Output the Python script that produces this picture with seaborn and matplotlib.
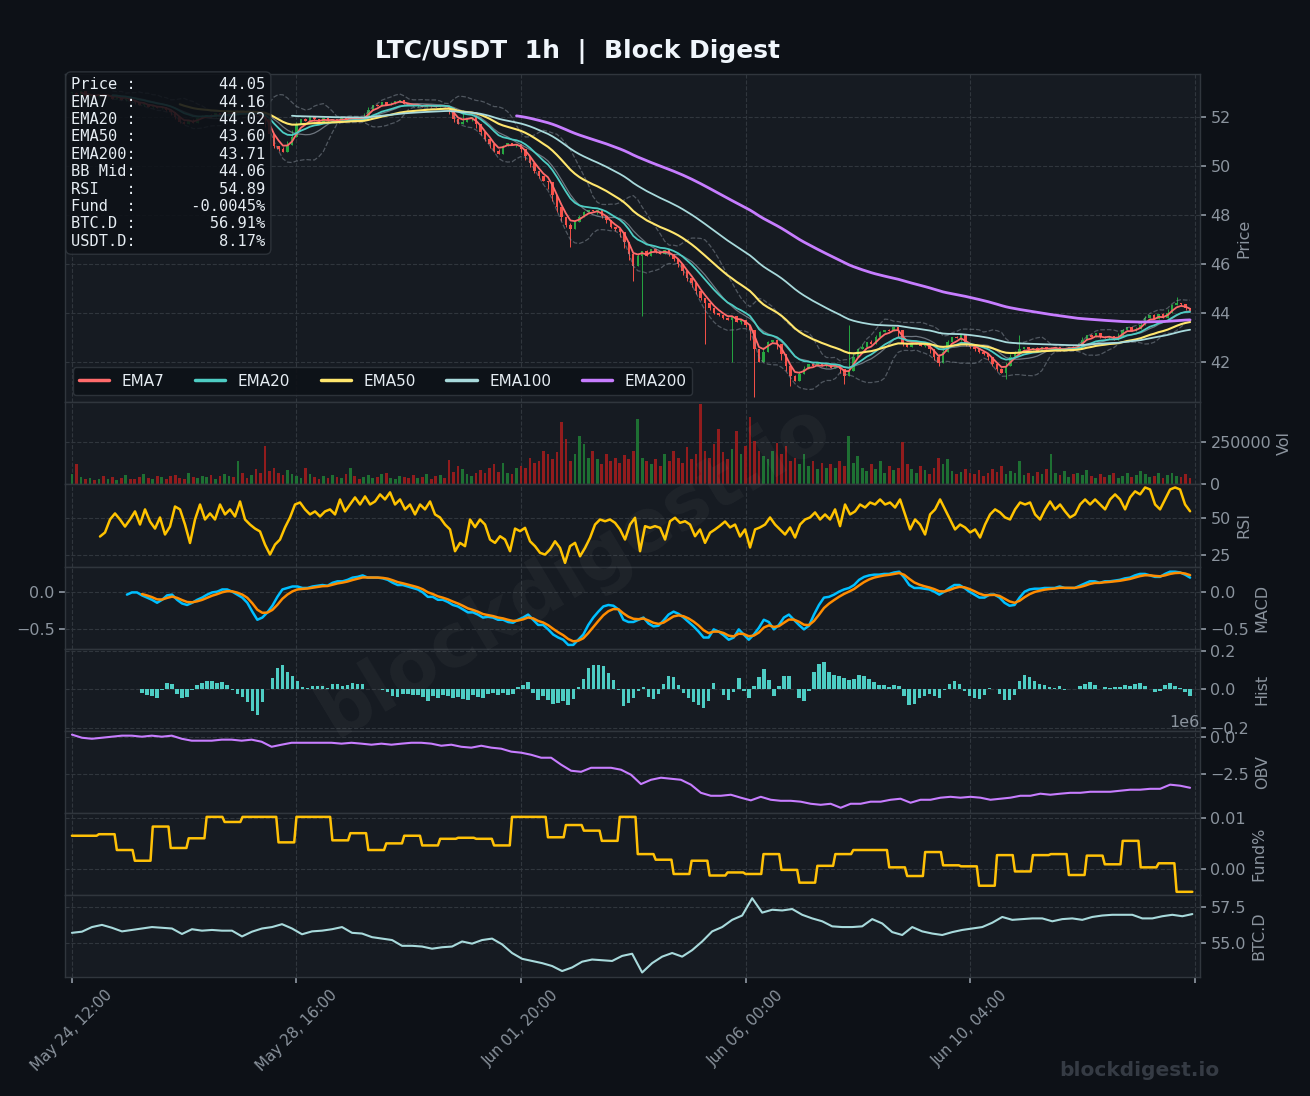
import numpy as np
import pandas as pd
import matplotlib
matplotlib.use('Agg')
import matplotlib.pyplot as plt
import seaborn as sns

close = [
    53.0, 52.9, 53.05, 52.85, 52.9,
    52.8, 52.95, 52.85, 52.9, 52.75, 52.85, 52.7, 52.8,
    52.65, 52.6,
    52.5, 52.55, 52.4, 52.45, 52.35, 52.4, 52.3, 52.2,
    52.0, 51.8, 51.7, 51.85, 51.75, 51.95,
    52.05, 52.1, 52.0, 52.15, 52.05, 52.1, 52.2, 52.1, 52.25,
    52.2, 52.15, 52.25, 52.1, 52.05, 51.9,
    51.3, 50.8, 50.7, 50.55, 50.85, 51.2,
    51.7, 51.9, 51.85, 52.0, 51.9, 51.8, 51.95, 51.85, 51.9, 51.8, 51.95, 51.9, 52.0,
    51.95, 51.85, 52.0, 52.3, 52.5, 52.45, 52.6, 52.5, 52.55, 52.65,
    52.7, 52.55, 52.5, 52.45, 52.5, 52.4, 52.5, 52.45, 52.4, 52.5, 52.45, 52.35,
    51.9, 51.7, 51.8, 51.95, 52.0,
    51.7, 51.4, 51.1, 50.9, 50.6, 50.5,
    50.8, 50.95, 50.85, 50.9, 50.7,
    50.4, 50.1, 49.8, 49.6, 49.4, 49.35,
    48.8, 48.3, 47.9, 47.6, 47.4,
    47.7, 47.9, 48.1, 48.2, 48.15, 48.2,
    47.95, 47.8, 47.5, 47.4, 47.3,
    46.9, 46.4, 45.9, 46.3,
    46.5, 46.3, 46.6, 46.5, 46.4, 46.55, 46.4, 46.2,
    46.0, 45.7, 45.4, 45.2, 44.9,
    44.6, 44.4, 44.2, 44.0, 43.9, 43.8,
    43.7, 43.85, 43.6, 43.7, 43.5, 43.3,
    42.5, 42.0, 42.4,
    42.8, 42.9, 42.7, 42.3,
    41.8, 41.4, 41.2,
    41.5, 41.7, 41.9, 41.8, 41.95,
    41.8, 41.9, 41.75, 41.85, 41.7,
    41.4, 41.6,
    42.2, 42.5, 42.6, 42.8, 42.7,
    43.0, 43.2, 43.3, 43.25, 43.4, 43.3,
    42.7, 42.6,
    42.75, 42.8, 42.65, 42.7, 42.5,
    42.2, 41.95,
    42.4, 42.8, 43.0, 42.95, 43.1,
    42.7, 42.6, 42.5, 42.4, 42.3, 42.2,
    41.9, 41.7, 41.55, 41.8,
    42.2, 42.4, 42.5,
    42.6, 42.5, 42.55, 42.45, 42.6, 42.5, 42.55, 42.6, 42.45, 42.5, 42.6, 42.55, 42.65,
    42.9, 43.1, 43.0, 43.15, 43.0,
    42.95, 43.05, 42.9, 43.0,
    43.3, 43.4, 43.25, 43.35, 43.5,
    43.8, 43.9, 43.75, 43.95, 43.8, 44.0,
    44.3, 44.4, 44.35, 44.2, 44.05,
]

# volume per 2h sample, thousands
volume_k = [
    60, 120, 45, 30, 40, 25, 35, 50, 30, 45, 28, 40, 55, 35, 30, 45, 60, 38, 30, 50,
    42, 35, 48, 55, 40, 30, 65, 45, 38, 50,
    42, 55, 35, 48, 60, 50, 45, 140, 70, 38, 55, 90, 65, 226, 80, 100, 70, 55, 85, 60,
    50, 40, 95, 60, 45, 35, 50, 40, 55, 45, 38, 60, 100, 48, 35, 42, 55, 38, 45, 60,
    70, 40, 35, 50, 45, 38, 55, 40, 42, 60, 35, 48, 55, 40, 143,
    75, 110, 90, 60, 50, 70, 85, 65, 95, 120, 75, 130, 70, 60, 95,
    110, 95, 160, 130, 140, 200, 180, 150, 190, 369, 270, 140, 180, 290, 240, 160, 200, 150, 120, 180,
    140, 160, 130, 175, 150, 200, 387, 160, 140, 120,
    150, 110, 180, 140, 200, 160, 130, 220, 150, 180, 476, 200, 160, 240, 330, 190, 150, 210, 320, 180,
    230, 400, 260, 200, 170,
    150, 200, 245, 180, 230, 140, 160, 120, 180, 110, 140, 90, 130, 100, 120, 95, 140, 110, 290, 130,
    170, 100, 80, 120, 90, 140, 70, 110, 85, 100, 250, 120, 90, 70, 110, 85, 60, 95, 160, 120,
    150, 80, 60, 75, 90,
    70, 60, 85, 50, 65, 90, 75, 110, 60, 80, 70, 140, 55, 65, 50, 75, 60, 90, 180, 70,
    55, 80, 45, 60, 70, 55, 85, 50, 40, 60, 45, 55, 70, 40, 50, 65, 45, 55, 80, 60,
    45, 50, 65, 40, 55, 70, 50, 45, 60, 40,
]

# long wicks (sample index, extreme price)
low_spike_idx = [111, 125, 127, 141, 147, 152, 160, 172, 193, 208]
low_spike_px = [46.7, 45.3, 43.85, 42.7, 42.0, 40.55, 41.0, 41.1, 41.8, 41.3]
high_spike_idx = [87, 173, 211, 246]
high_spike_px = [52.3, 43.5, 43.1, 44.65]

rsi = [
    37.5, 40.3, 49.3, 53.5, 49.3, 44.4, 49.3, 54.9, 45.8, 56.3,
    47.9, 43.0, 50.7, 38.9, 44.4, 58.3, 56.3, 45.8, 33.0, 49.3,
    59.7, 49.3, 53.5, 49.3, 59.7, 52.8, 56.3, 51.4, 61.8, 49.3,
    45.8, 43.0, 41.0, 31.9, 25.0, 31.9, 35.4, 43.8, 50.7, 59.7,
    61.1, 56.3, 52.8, 54.9, 51.4, 54.9, 56.3, 52.8, 63.2, 54.9,
    59.7, 64.6, 59.7, 65.3, 59.7, 61.8, 66.7, 63.2, 68.1, 59.7,
    63.2, 56.3, 59.7, 52.8, 59.7, 56.3, 61.8, 52.8, 50.7, 45.8,
    42.4, 27.3, 33.1, 30.8, 49.3, 44.0, 49.3, 45.8, 35.4, 33.1,
    37.7, 35.4, 27.3, 43.0, 41.2, 43.5, 34.2, 30.8, 26.2, 25.0,
    28.5, 34.2, 29.6, 19.2, 30.8, 33.1, 23.8, 29.6, 36.6, 45.8,
    49.3, 48.1, 49.3, 47.0, 42.4, 35.4, 45.8, 50.5, 27.3, 44.7,
    43.5, 44.7, 43.5, 35.4, 48.1, 50.5, 47.0, 48.1, 45.8, 37.7,
    42.4, 33.1, 40.1, 42.4, 45.0, 47.9, 43.8, 45.8, 37.5, 42.4,
    29.9, 42.4, 43.8, 45.8, 50.7, 45.8, 42.4, 38.9, 43.8, 36.8,
    45.8, 49.3, 50.7, 54.2, 49.3, 52.8, 49.3, 56.3, 44.7, 59.7,
    52.8, 54.9, 59.7, 57.6, 61.1, 59.7, 63.2, 59.7, 61.1, 57.6,
    63.2, 52.8, 42.4, 49.3, 45.8, 38.9, 52.8, 56.3, 63.2, 56.3,
    49.3, 42.4, 45.8, 43.8, 40.3, 42.4, 36.8, 45.8, 52.8, 56.3,
    54.2, 50.7, 49.3, 56.3, 61.1, 59.7, 61.1, 52.8, 49.3, 56.3,
    61.8, 56.3, 59.7, 54.9, 50.7, 52.8, 59.7, 63.2, 59.7, 63.2,
    59.7, 56.3, 63.2, 66.7, 63.2, 56.3, 64.6, 68.8, 66.7, 71.5,
    70.1, 59.7, 56.3, 63.2, 70.1, 71.5, 70.1, 59.7, 55.0,
]

macd = [
    -0.04, -0.01, -0.01, -0.05, -0.08, -0.11, -0.15, -0.11, -0.05, -0.04,
    -0.11, -0.16, -0.18, -0.15, -0.11, -0.08, -0.04, -0.01, 0.0, 0.03,
    0.03, 0.0, -0.04, -0.08, -0.15, -0.27, -0.38, -0.35, -0.28, -0.19,
    -0.07, 0.03, 0.05, 0.07, 0.07, 0.05, 0.05, 0.07, 0.08, 0.09,
    0.08, 0.12, 0.14, 0.14, 0.16, 0.19, 0.2, 0.22, 0.19, 0.19,
    0.19, 0.18, 0.16, 0.12, 0.09, 0.09, 0.07, 0.05, 0.03, -0.01,
    -0.07, -0.07, -0.11, -0.11, -0.14, -0.18, -0.2, -0.24, -0.28, -0.28,
    -0.31, -0.35, -0.34, -0.35, -0.38, -0.38, -0.41, -0.42, -0.38, -0.35,
    -0.31, -0.38, -0.45, -0.45, -0.51, -0.58, -0.62, -0.65, -0.72, -0.72,
    -0.65, -0.58, -0.45, -0.35, -0.27, -0.2, -0.18, -0.19, -0.24, -0.38,
    -0.41, -0.41, -0.38, -0.35, -0.43, -0.47, -0.46, -0.39, -0.31, -0.27,
    -0.3, -0.35, -0.41, -0.47, -0.54, -0.62, -0.62, -0.51, -0.54, -0.59,
    -0.65, -0.62, -0.51, -0.58, -0.65, -0.58, -0.49, -0.38, -0.41, -0.51,
    -0.45, -0.35, -0.31, -0.38, -0.45, -0.51, -0.46, -0.31, -0.18, -0.08,
    -0.07, -0.04, 0.0, 0.03, 0.05, 0.09, 0.16, 0.2, 0.22, 0.23,
    0.23, 0.24, 0.24, 0.26, 0.27, 0.19, 0.09, 0.05, 0.05, 0.04,
    0.03, 0.0, -0.04, 0.0, 0.05, 0.09, 0.09, 0.05, 0.0, -0.04,
    -0.08, -0.08, -0.04, -0.04, -0.08, -0.15, -0.19, -0.18, -0.08, 0.0,
    0.03, 0.04, 0.04, 0.05, 0.05, 0.05, 0.07, 0.05, 0.05, 0.05,
    0.08, 0.11, 0.14, 0.14, 0.12, 0.14, 0.14, 0.15, 0.16, 0.18,
    0.19, 0.22, 0.24, 0.24, 0.22, 0.2, 0.2, 0.24, 0.27, 0.27,
    0.26, 0.23, 0.19,
]

obv_m = [
    0.14, -0.07, -0.14, -0.07, 0.0, 0.07, 0.07, 0.0, 0.07, 0.0,
    0.07, -0.14, -0.27, -0.27, -0.27, -0.2, -0.2, -0.27, -0.2, -0.34,
    -0.68, -0.54, -0.41, -0.41, -0.41, -0.41, -0.41, -0.47, -0.41, -0.47,
    -0.54, -0.47, -0.54, -0.47, -0.41, -0.41, -0.47, -0.61, -0.54, -0.68,
    -0.74, -0.61, -0.74, -0.81, -1.01, -1.08, -1.22, -1.42, -1.42, -1.89,
    -2.3, -2.37, -2.1, -2.1, -2.1, -2.23, -2.57, -3.2, -2.91, -2.77,
    -2.84, -2.91, -3.24, -3.79, -3.99, -3.99, -3.92, -4.12, -4.3, -4.06,
    -4.26, -4.33, -4.33, -4.39, -4.53, -4.6, -4.53, -4.8, -4.53, -4.53,
    -4.39, -4.39, -4.26, -4.19, -4.46, -4.26, -4.26, -4.12, -4.06, -4.12,
    -4.06, -4.12, -4.26, -4.19, -4.12, -3.99, -3.99, -3.85, -3.92, -3.85,
    -3.79, -3.79, -3.72, -3.72, -3.72, -3.65, -3.58, -3.58, -3.52, -3.52,
    -3.24, -3.31, -3.45,
]

# funding rate (%), first window 12h then every 8h
funding = [
    0.0065, 0.0068, 0.0037, 0.0016, 0.0083, 0.0041, 0.006, 0.0102, 0.0092, 0.0102,
    0.0102, 0.0052, 0.0102, 0.0102, 0.0056, 0.007, 0.0037, 0.005, 0.0065, 0.0046,
    0.0059, 0.0061, 0.0059, 0.0046, 0.0102, 0.0102, 0.0062, 0.0086, 0.0075, 0.0055,
    0.0102, 0.0029, 0.0018, -0.001, 0.0016, -0.0013, -0.0007, -0.001, 0.0029, -0.0002,
    -0.0027, 0.0006, 0.0029, 0.0037, 0.0037, 0.0003, -0.0014, 0.0033, 0.0007, 0.0005,
    -0.0033, 0.0027, -0.0005, 0.0027, 0.0029, -0.0012, 0.0026, 0.0009, 0.0055, 0.0003,
    0.0011, -0.0045,
]

btc_d = [
    55.7, 55.78, 56.1, 56.25, 56.05, 55.8, 55.9, 56.0, 56.1, 56.05,
    56.0, 55.62, 55.95, 55.85, 55.9, 55.85, 55.85, 55.45, 55.78, 56.0,
    56.1, 56.3, 56.0, 55.6, 55.8, 55.85, 55.95, 56.1, 55.7, 55.65,
    55.4, 55.3, 55.2, 54.8, 54.8, 54.75, 54.6, 54.7, 54.75, 55.1,
    54.95, 55.2, 55.3, 54.9, 54.3, 53.9, 53.75, 53.6, 53.4, 53.05,
    53.3, 53.7, 53.85, 53.8, 53.75, 54.1, 54.25, 52.95, 53.6, 54.05,
    54.3, 54.05, 54.5, 55.1, 55.8, 56.1, 56.6, 56.9, 58.1, 57.1,
    57.3, 57.25, 57.35, 56.95, 56.7, 56.5, 56.15, 56.1, 56.1, 56.15,
    56.65, 56.35, 55.75, 55.55, 56.1, 55.8, 55.65, 55.55, 55.75, 55.9,
    56.0, 56.1, 56.4, 56.8, 56.6, 56.65, 56.7, 56.7, 56.5, 56.65,
    56.7, 56.6, 56.8, 56.9, 56.95, 56.95, 56.95, 56.7, 56.7, 56.85,
    56.95, 56.85, 57.0,
]

tick_labels = ['May 24, 12:00', 'May 28, 16:00', 'Jun 01, 20:00',
               'Jun 06, 00:00', 'Jun 10, 04:00', '']
info_labels = ['Price', 'EMA7', 'EMA20', 'EMA50', 'EMA200', 'BB Mid',
               'RSI', 'Fund', 'BTC.D', 'USDT.D']
info_values = ['44.05', '44.16', '44.02', '43.60', '43.71', '44.06',
               '54.89', '-0.0045%', '56.91%', '8.17%']

BG = '#0d1117'
PANEL = '#161b22'
GRID = '#30363d'
TXT = '#8b949e'

sns.set_theme(style='dark', rc={
    'figure.facecolor': BG, 'axes.facecolor': PANEL, 'axes.edgecolor': GRID,
    'grid.color': GRID, 'text.color': TXT, 'axes.labelcolor': TXT,
    'xtick.color': TXT, 'ytick.color': TXT, 'patch.force_edgecolor': False,
})
plt.rcParams['font.family'] = ['DejaVu Sans']

step = 2  # hours per price sample
c = pd.Series(close, dtype=float)
o = c.shift(1).fillna(c.iloc[0])
t = np.arange(len(c)) * step
body_top = np.maximum(o, c)
body_bot = np.minimum(o, c)
hi = np.maximum(body_top, (body_top + c.rolling(3, center=True, min_periods=1).max()) / 2).values.copy()
lo = np.minimum(body_bot, (body_bot + c.rolling(3, center=True, min_periods=1).min()) / 2).values.copy()
for i, p in zip(low_spike_idx, low_spike_px):
    lo[i] = min(lo[i], p)
for i, p in zip(high_spike_idx, high_spike_px):
    hi[i] = max(hi[i], p)
up = (c >= o).values
candle_col = np.where(up, '#26a641', '#f85149')


def ema(span_h):
    a = 1 - (1 - 2 / (span_h + 1)) ** step
    return c.ewm(alpha=a, adjust=False, min_periods=max(1, span_h // step)).mean()


bb_n = 20 // step
bb_mid = c.rolling(bb_n).mean()
bb_sd = c.rolling(bb_n).std(ddof=0)

fig = plt.figure(figsize=(13.1, 10.96), dpi=100)
gs = fig.add_gridspec(8, 1, height_ratios=[4, 1, 1, 1, 1, 1, 1, 1], hspace=0,
                      left=0.0496, right=0.916, top=0.9325, bottom=0.1086)
ax0 = fig.add_subplot(gs[0])
axes = [ax0] + [fig.add_subplot(gs[i], sharex=ax0) for i in range(1, 8)]
axp, axv, axr, axm, axh, axo, axf, axb = axes

# price panel
axp.vlines(t, lo, hi, colors=candle_col, lw=0.7, zorder=2)
axp.bar(t, np.maximum(body_top - body_bot, 0.03), bottom=body_bot, width=1.1,
        color=candle_col, edgecolor='none', linewidth=0, zorder=2)
for band in (bb_mid + 2 * bb_sd, bb_mid - 2 * bb_sd):
    sns.lineplot(x=t, y=band.values, ax=axp, color=TXT, lw=0.9, ls='--', alpha=0.5, zorder=3)
sns.lineplot(x=t, y=bb_mid.values, ax=axp, color=TXT, lw=0.9, alpha=0.75, zorder=3)
ema_specs = [(7, '#ff6b6b', 1.3), (20, '#4ecdc4', 1.3), (50, '#ffe66d', 1.5),
             (100, '#a8dadc', 1.3), (200, '#c77dff', 2.0)]
handles = []
for span, col, lw in ema_specs:
    sns.lineplot(x=t, y=ema(span).values, ax=axp, color=col, lw=lw, zorder=4)
    handles.append(plt.Line2D([], [], color=col, lw=2.5, label=f'EMA{span}'))
axp.legend(handles=handles, loc='lower left', ncol=5, fontsize=11, facecolor=BG,
           edgecolor=GRID, labelcolor='#e6edf3', framealpha=0.9)
axp.set_ylim(40.33, 53.76)
axp.set_yticks([42, 44, 46, 48, 50, 52])
axp.set_ylabel('Price')

info = '\n'.join(f'{lab:<6}:{val:>14}' for lab, val in zip(info_labels, info_values))
axp.text(0.0055, 0.99, info, transform=axp.transAxes, va='top', ha='left',
         family='DejaVu Sans Mono', fontsize=11.1, color='#e6edf3', linespacing=1.2,
         zorder=10, bbox=dict(boxstyle='round,pad=0.35', fc=BG, ec=GRID, alpha=0.88))

# volume
vol = np.array(volume_k) * 1000
axv.bar(t, vol, width=1.2, color=np.where(up, '#1f7a35', '#a11d1d'),
        edgecolor='none', linewidth=0, alpha=0.9)
axv.set_ylim(0, 488000)
axv.set_yticks([0, 250000])
axv.set_ylabel('Vol')

# RSI
rx = np.linspace(12.5, 498, len(rsi))
sns.lineplot(x=rx, y=rsi, ax=axr, color='#ffc300', lw=1.8)
axr.set_ylim(16.7, 73.6)
axr.set_yticks([25, 50])
axr.set_ylabel('RSI')

# MACD
mx = np.linspace(24.5, 498, len(macd))
dt = mx[1] - mx[0]
m = pd.Series(macd)
sig = m.ewm(alpha=1 - (1 - 2 / 10) ** dt, adjust=False, min_periods=4).mean()
sns.lineplot(x=mx, y=m.values, ax=axm, color='#00bfff', lw=1.8)
sns.lineplot(x=mx, y=sig.values, ax=axm, color='#ff8c00', lw=1.8)
axm.set_ylim(-0.77, 0.34)
axm.set_yticks([-0.5, 0.0])
axm.set_ylabel('MACD')

# histogram
hist = (m - sig).values
axh.bar(mx, np.nan_to_num(hist), width=dt * 0.7, color='#4ecdc4',
        edgecolor='none', linewidth=0)
axh.set_ylim(-0.215, 0.21)
axh.set_yticks([-0.2, 0.0, 0.2])
axh.set_ylabel('Hist')

# OBV
ox = np.linspace(0, 498, len(obv_m))
sns.lineplot(x=ox, y=np.array(obv_m) * 1e6, ax=axo, color='#c77dff', lw=1.5)
axo.set_ylim(-5.14e6, 0.405e6)
axo.set_yticks([-2.5e6, 0.0])
axo.set_ylabel('OBV')
axo.yaxis.get_offset_text().set_color(TXT)
axo.yaxis.get_offset_text().set_fontsize(11.5)

# funding, expanded to hourly steps
seg_len = [12] + [8] * (len(funding) - 1)
fund_h = np.repeat(funding, seg_len)
sns.lineplot(x=np.arange(len(fund_h)), y=fund_h, ax=axf, color='#ffc107', lw=1.8)
axf.set_ylim(-0.0051, 0.011)
axf.set_yticks([0.0, 0.01])
axf.set_yticklabels(['0.00', '0.01'])
axf.set_ylabel('Fund%')

# BTC dominance
bx = np.linspace(0, 499, len(btc_d))
sns.lineplot(x=bx, y=btc_d, ax=axb, color='#a8dadc', lw=1.5)
axb.set_ylim(52.64, 58.33)
axb.set_yticks([55.0, 57.5])
axb.set_ylabel('BTC.D')

for ax in axes:
    ax.set_facecolor(PANEL)
    ax.grid(True, ls='--', lw=0.8, color=GRID, alpha=1.0)
    ax.yaxis.tick_right()
    ax.yaxis.set_label_position('right')
    ax.yaxis.label.set_size(11.5)
    ax.tick_params(axis='y', right=True, left=False, labelright=True, labelleft=False,
                   labelsize=11.5, colors=TXT, length=4)
    ax.tick_params(axis='x', bottom=True, length=4, colors=TXT)
    for sp in ax.spines.values():
        sp.set_color(GRID)
        sp.set_linewidth(1.0)
    if ax is not axb:
        ax.tick_params(axis='x', labelbottom=False)
axm.tick_params(axis='y', left=True, labelleft=True)

axb.set_xlim(-3.1, 502.4)
axb.set_xticks(np.arange(0, 501, 100))
axb.set_xticklabels(tick_labels, rotation=45, ha='center', fontsize=10.8, color=TXT)

fig.text(0.4405, 0.9526, 'LTC/USDT  1h  |  Block Digest', ha='center', va='center',
         fontsize=18, fontweight='bold', color='#f0f6fc')
fig.text(0.439, 0.48, 'blockdigest.io', ha='center', va='center', rotation=31,
         fontsize=53, fontweight='bold', color='white', alpha=0.04, zorder=20)
fig.text(0.870, 0.0237, 'blockdigest.io', ha='center', va='center', fontsize=14.5,
         fontweight='bold', color='#353b44')

fig.savefig('out.png', dpi=100, facecolor=BG)
